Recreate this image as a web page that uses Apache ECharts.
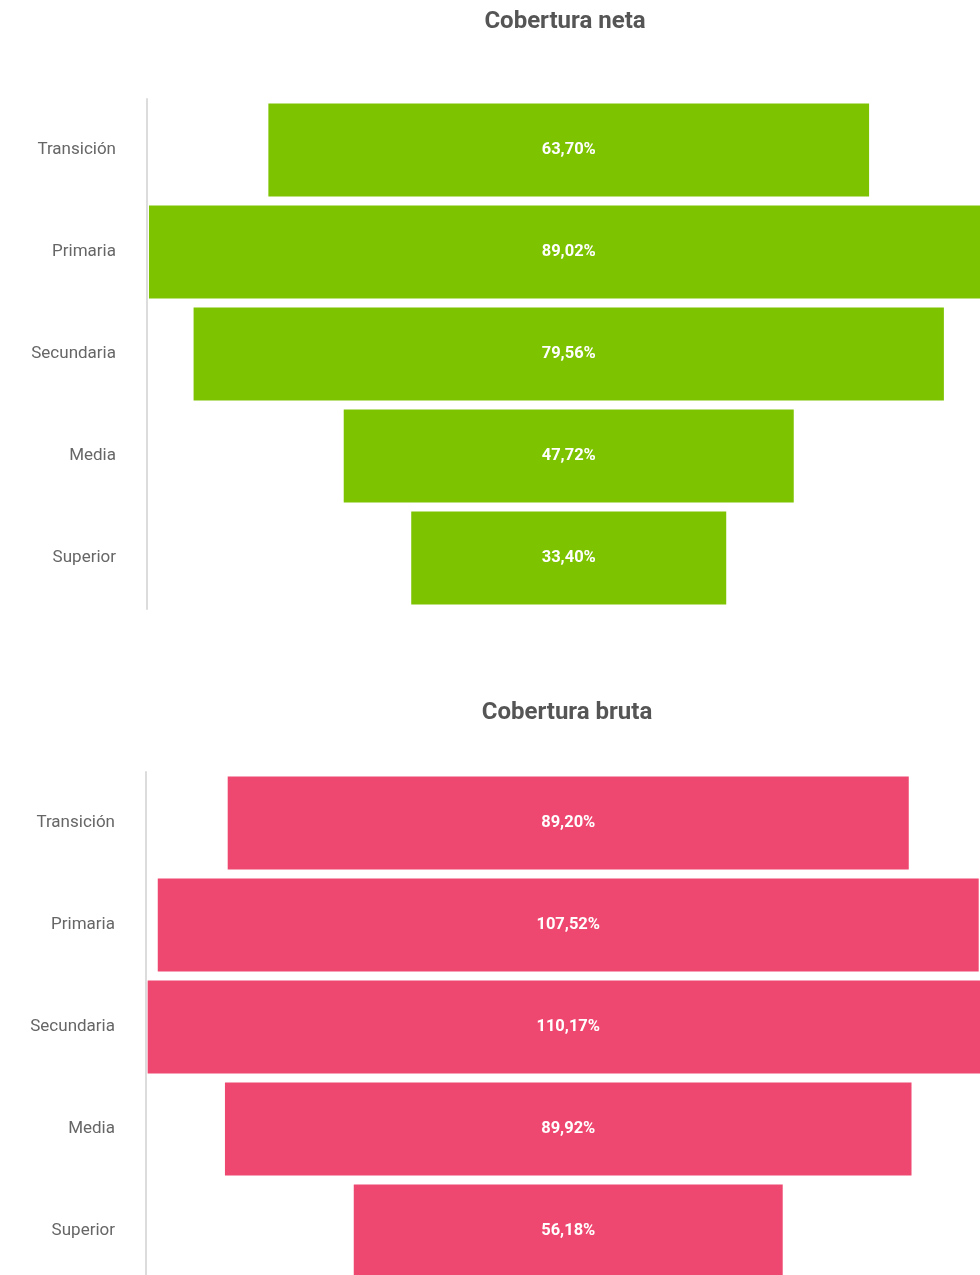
<!DOCTYPE html>
<html>
<head>
<meta charset="utf-8">
<script src="https://cdn.jsdelivr.net/npm/echarts@6/dist/echarts.min.js"></script>
<style>
html,body{margin:0;padding:0;background:#fff;overflow:hidden;}
#chart{width:980px;height:1285px;}
</style>
</head>
<body>
<div id="chart"></div>
<script>
var categories = ['Transición', 'Primaria', 'Secundaria', 'Media', 'Superior'];
var netaValues = [63.70, 89.02, 79.56, 47.72, 33.40];
var brutaValues = [89.20, 107.52, 110.17, 89.92, 56.18];
var titles = ['Cobertura neta', 'Cobertura bruta'];

// axis extents and centre of the centred (funnel-like) bars
var netaMax = 88.33, netaCenter = 44.72;
var brutaMax = 109.23, brutaCenter = 55.30;

function offsets(vals, c) { return vals.map(function (v) { return c - v / 2; }); }
function labelPoints(vals, c) { return vals.map(function (v, i) { return [c, categories[i], v]; }); }
function fmt(p) { return p.value[2].toFixed(2).replace('.', ',') + '%'; }

var FONT = 'Roboto';
var chart = echarts.init(document.getElementById('chart'));

function yAxis(idx) {
  return {
    type: 'category', gridIndex: idx, data: categories, inverse: true,
    axisLine: { show: true, lineStyle: { color: '#dcdcdc', width: 2 } },
    axisTick: { show: false },
    axisLabel: { color: '#666', fontSize: 17, fontFamily: FONT, margin: 31 }
  };
}
function xAxis(idx, max) {
  return { type: 'value', gridIndex: idx, min: 0, max: max, show: false };
}
function labelSeries(idx, vals, c) {
  return {
    type: 'scatter', xAxisIndex: idx, yAxisIndex: idx, data: labelPoints(vals, c),
    symbolSize: 1, itemStyle: { color: '#ffffff', opacity: 0 }, silent: true, z: 5,
    label: { show: true, position: 'inside', color: '#ffffff', opacity: 1, textBorderWidth: 0,
      fontWeight: 'bold', fontSize: 16.5, fontFamily: FONT, formatter: fmt }
  };
}

chart.setOption({
  animation: false,
  title: [
    { text: titles[0], left: 560, top: 5, textAlign: 'center',
      textStyle: { color: '#555', fontSize: 24, fontWeight: 'bold', fontFamily: FONT } },
    { text: titles[1], left: 562, top: 696, textAlign: 'center',
      textStyle: { color: '#555', fontSize: 24, fontWeight: 'bold', fontFamily: FONT } }
  ],
  grid: [
    { left: 147, right: 0, top: 99, height: 510 },
    { left: 146, right: 0, top: 772, height: 510 }
  ],
  xAxis: [xAxis(0, netaMax), xAxis(1, brutaMax)],
  yAxis: [yAxis(0), yAxis(1)],
  series: [
    { type: 'bar', xAxisIndex: 0, yAxisIndex: 0, stack: 'n', data: offsets(netaValues, netaCenter),
      itemStyle: { color: 'transparent' }, barWidth: 93, silent: true },
    { type: 'bar', name: titles[0], xAxisIndex: 0, yAxisIndex: 0, stack: 'n', data: netaValues,
      itemStyle: { color: '#7dc300' }, barWidth: 93 },
    { type: 'bar', xAxisIndex: 1, yAxisIndex: 1, stack: 'b', data: offsets(brutaValues, brutaCenter),
      itemStyle: { color: 'transparent' }, barWidth: 93, silent: true },
    { type: 'bar', name: titles[1], xAxisIndex: 1, yAxisIndex: 1, stack: 'b', data: brutaValues,
      itemStyle: { color: '#ef4870' }, barWidth: 93 },
    labelSeries(0, netaValues, netaCenter),
    labelSeries(1, brutaValues, brutaCenter)
  ]
});
</script>
</body>
</html>
